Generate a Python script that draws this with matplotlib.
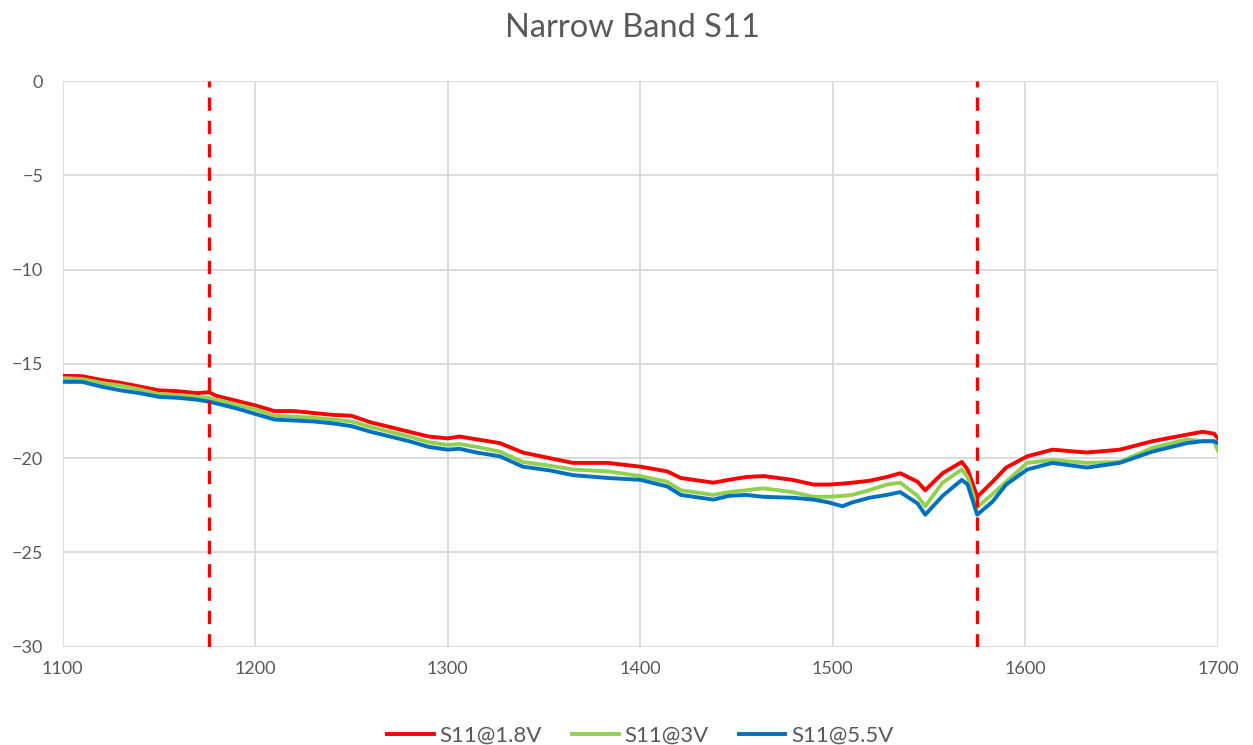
import matplotlib
matplotlib.use("Agg")
import matplotlib.pyplot as plt

freq = [1100, 1110, 1120, 1130, 1140, 1150, 1160, 1170, 1176, 1180, 1190, 1200, 1210, 1220, 1230,
        1240, 1250, 1260, 1270, 1280, 1290, 1300, 1306, 1315, 1327, 1339, 1353, 1365, 1383, 1400,
        1414, 1421, 1438, 1446, 1455, 1464, 1479, 1490, 1498, 1505, 1510, 1519, 1528, 1535, 1544,
        1548, 1557, 1567, 1570, 1575, 1583, 1590, 1601, 1614, 1632, 1649, 1666, 1684, 1692, 1698, 1700]

s11_1v8 = [-15.63, -15.65, -15.85, -16.0, -16.2, -16.4, -16.45, -16.55, -16.5, -16.7, -16.95, -17.2,
           -17.5, -17.5, -17.6, -17.7, -17.75, -18.1, -18.35, -18.6, -18.85, -18.95, -18.85, -19.0,
           -19.2, -19.7, -20.0, -20.25, -20.25, -20.45, -20.7, -21.05, -21.3, -21.15, -21.0, -20.95,
           -21.15, -21.4, -21.4, -21.35, -21.3, -21.2, -21.0, -20.8, -21.25, -21.7, -20.8, -20.2,
           -20.6, -22.05, -21.25, -20.5, -19.9, -19.55, -19.7, -19.55, -19.1, -18.75, -18.6, -18.7, -18.95]

s11_3v = [-15.75, -15.8, -16.0, -16.15, -16.35, -16.6, -16.65, -16.75, -16.8, -16.9, -17.15, -17.4,
          -17.75, -17.8, -17.85, -17.95, -18.05, -18.35, -18.6, -18.85, -19.15, -19.3, -19.25, -19.4,
          -19.65, -20.2, -20.4, -20.6, -20.7, -20.95, -21.25, -21.7, -21.95, -21.8, -21.7, -21.6,
          -21.8, -22.05, -22.05, -22.0, -21.95, -21.7, -21.4, -21.3, -22.0, -22.55, -21.3, -20.6,
          -21.0, -22.6, -21.9, -21.25, -20.25, -20.1, -20.25, -20.2, -19.45, -19.0, -19.1, -19.1, -19.6]

s11_5v5 = [-15.95, -15.95, -16.2, -16.4, -16.55, -16.75, -16.8, -16.9, -17.0, -17.1, -17.35, -17.65,
           -17.95, -18.0, -18.05, -18.15, -18.3, -18.6, -18.85, -19.1, -19.4, -19.55, -19.5, -19.7,
           -19.9, -20.45, -20.65, -20.9, -21.05, -21.15, -21.5, -21.95, -22.2, -22.0, -21.95, -22.05,
           -22.1, -22.2, -22.35, -22.55, -22.35, -22.1, -21.95, -21.8, -22.4, -23.0, -22.0, -21.15,
           -21.4, -23.0, -22.3, -21.4, -20.6, -20.25, -20.5, -20.25, -19.65, -19.2, -19.1, -19.1, -19.2]

band_edges = [1176, 1575]
x_ticks = [1100, 1200, 1300, 1400, 1500, 1600, 1700]
y_ticks = [0, -5, -10, -15, -20, -25, -30]

plt.rcParams['font.family'] = ['Lato', 'DejaVu Sans']

fig = plt.figure(figsize=(12.53, 7.45), dpi=100)
ax = fig.add_axes([0.050, 0.132, 0.922, 0.759])

ax.plot(freq, s11_1v8, color='#FF0000', lw=2.8, label='S11@1.8V', zorder=3)
ax.plot(freq, s11_3v, color='#92D050', lw=2.8, label='S11@3V', zorder=3)
ax.plot(freq, s11_5v5, color='#0070C0', lw=2.8, label='S11@5.5V', zorder=4)
for xe in band_edges:
    ax.axvline(xe, color='#FF0000', lw=2.4, dashes=(4, 3), zorder=5)

ax.set_xlim(1100, 1700)
ax.set_ylim(-30, 0)
ax.set_xticks(x_ticks)
ax.set_yticks(y_ticks)
ax.grid(True, color='#D9D9D9', lw=1.3)
ax.set_axisbelow(True)
for s in ax.spines.values():
    s.set_visible(False)
ax.tick_params(length=0, labelsize=13, colors='#595959', pad=10)
ax.tick_params(axis='y', pad=14)

fig.text(0.505, 0.962, 'Narrow Band S11', ha='center', va='center', fontsize=23.5, color='#595959')

ax.legend(loc='upper center', bbox_to_anchor=(0.5, -0.104), ncol=3, frameon=False,
          fontsize=16, handlelength=2.1, handletextpad=0.25, columnspacing=1.35,
          labelcolor='#595959')

fig.savefig('out.png', dpi=100)
